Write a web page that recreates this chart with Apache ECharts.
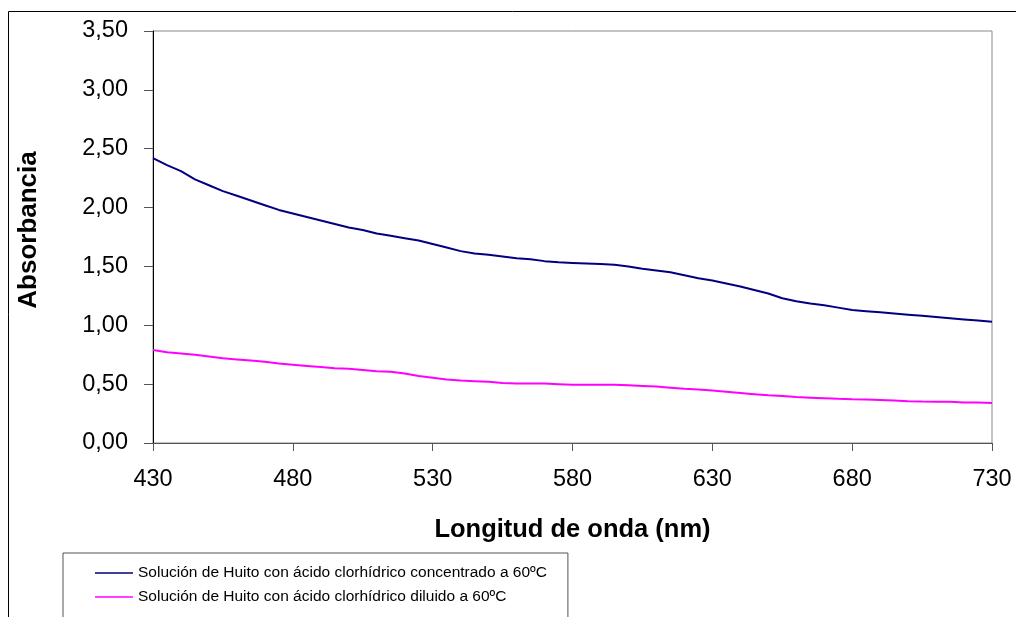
<!DOCTYPE html>
<html>
<head>
<meta charset="utf-8">
<script src="https://cdn.jsdelivr.net/npm/echarts@6/dist/echarts.min.js"></script>
<style>
  html, body { margin: 0; padding: 0; background: #fff; }
  #chart { width: 1016px; height: 617px; }
</style>
</head>
<body>
<div id="chart"></div>
<script>
// Wavelengths (nm), 5 nm steps from 430 to 730
const wavelengths = [
  430, 435, 440, 445, 450, 455, 460, 465, 470, 475,
  480, 485, 490, 495, 500, 505, 510, 515, 520, 525,
  530, 535, 540, 545, 550, 555, 560, 565, 570, 575,
  580, 585, 590, 595, 600, 605, 610, 615, 620, 625,
  630, 635, 640, 645, 650, 655, 660, 665, 670, 675,
  680, 685, 690, 695, 700, 705, 710, 715, 720, 725, 730
];

// Absorbance, concentrated HCl at 60 ºC
const absConcentrado = [
  2.42, 2.36, 2.31, 2.24, 2.19, 2.14, 2.10, 2.06, 2.02, 1.98,
  1.95, 1.92, 1.89, 1.86, 1.83, 1.81, 1.78, 1.76, 1.74, 1.72,
  1.69, 1.66, 1.63, 1.61, 1.60, 1.585, 1.57, 1.56, 1.545, 1.535,
  1.53, 1.525, 1.52, 1.515, 1.50, 1.48, 1.465, 1.45, 1.425, 1.40,
  1.38, 1.355, 1.33, 1.30, 1.27, 1.23, 1.205, 1.185, 1.17, 1.15,
  1.13, 1.12, 1.11, 1.10, 1.09, 1.08, 1.07, 1.06, 1.05, 1.04, 1.03
];

// Absorbance, diluted HCl at 60 ºC
const absDiluido = [
  0.79, 0.77, 0.76, 0.75, 0.735, 0.72, 0.71, 0.70, 0.69, 0.675,
  0.665, 0.655, 0.645, 0.635, 0.63, 0.62, 0.61, 0.605, 0.59, 0.57,
  0.555, 0.54, 0.53, 0.525, 0.52, 0.51, 0.505, 0.505, 0.505, 0.50,
  0.495, 0.495, 0.495, 0.495, 0.49, 0.485, 0.48, 0.47, 0.46, 0.455,
  0.445, 0.435, 0.425, 0.415, 0.405, 0.40, 0.39, 0.385, 0.38, 0.375,
  0.372, 0.37, 0.365, 0.36, 0.355, 0.352, 0.35, 0.35, 0.345, 0.343, 0.34
];

const seriesNames = [
  'Solución de Huito con ácido clorhídrico concentrado a 60ºC',
  'Solución de Huito con ácido clorhídrico diluido a 60ºC'
];

const pairs = (xs, ys) => xs.map((x, i) => [x, ys[i]]);
const font = '"Liberation Sans", Arial, sans-serif';

const chart = echarts.init(document.getElementById('chart'), null, { renderer: 'canvas' });

chart.setOption({
  backgroundColor: '#fff',
  animation: false,
  graphic: [{
    type: 'rect',
    silent: true,
    z: -10,
    shape: { x: 8.5, y: 11.5, width: 1100, height: 700 },
    style: { fill: 'none', stroke: '#000', lineWidth: 1 }
  }],
  grid: {
    left: 153, right: 24, top: 31, bottom: 174,
    show: true, borderColor: '#888', borderWidth: 1, backgroundColor: 'transparent'
  },
  legend: {
    orient: 'vertical',
    left: 63, top: 553, height: 120,
    itemWidth: 38, itemHeight: 14, itemGap: 8,
    icon: 'path://M0,0 L38,0 L38,1.6 L0,1.6 Z',
    symbolKeepAspect: true,
    padding: [12, 21, 20, 32],
    borderColor: '#555', borderWidth: 1,
    textStyle: { fontFamily: font, fontSize: 15.5, color: '#000' },
    data: seriesNames
  },
  xAxis: {
    type: 'value',
    min: 430, max: 730, interval: 50,
    name: 'Longitud de onda (nm)',
    nameLocation: 'middle',
    nameGap: 74,
    nameTextStyle: { fontFamily: font, fontSize: 25.5, fontWeight: 'bold', color: '#000' },
    axisLine: { show: true, lineStyle: { color: '#555', width: 1 } },
    axisTick: { show: true, inside: false, length: 8, lineStyle: { color: '#555' } },
    axisLabel: { fontFamily: font, fontSize: 23.5, color: '#000', margin: 25 },
    splitLine: { show: false }
  },
  yAxis: {
    type: 'value',
    min: 0, max: 3.5, interval: 0.5,
    name: 'Absorbancia',
    nameLocation: 'middle',
    nameGap: 111,
    nameTextStyle: {
      fontFamily: font, fontSize: 26, fontWeight: 'bold', color: '#000',
      padding: [0, 0, 0, 14]
    },
    axisLine: { show: true, lineStyle: { color: '#000', width: 1 } },
    axisTick: { show: true, inside: false, length: 9, lineStyle: { color: '#555' } },
    axisLabel: {
      fontFamily: font, fontSize: 23.5, color: '#000', margin: 25,
      padding: [7, 0, 0, 0],
      formatter: v => v.toFixed(2).replace('.', ',')
    },
    splitLine: { show: false }
  },
  series: [
    {
      name: seriesNames[0],
      type: 'line',
      symbol: 'none',
      data: pairs(wavelengths, absConcentrado),
      lineStyle: { color: '#000080', width: 2 },
      itemStyle: { color: '#000080' }
    },
    {
      name: seriesNames[1],
      type: 'line',
      symbol: 'none',
      data: pairs(wavelengths, absDiluido),
      lineStyle: { color: '#FF00FF', width: 2 },
      itemStyle: { color: '#FF00FF' }
    }
  ]
});
</script>
</body>
</html>
